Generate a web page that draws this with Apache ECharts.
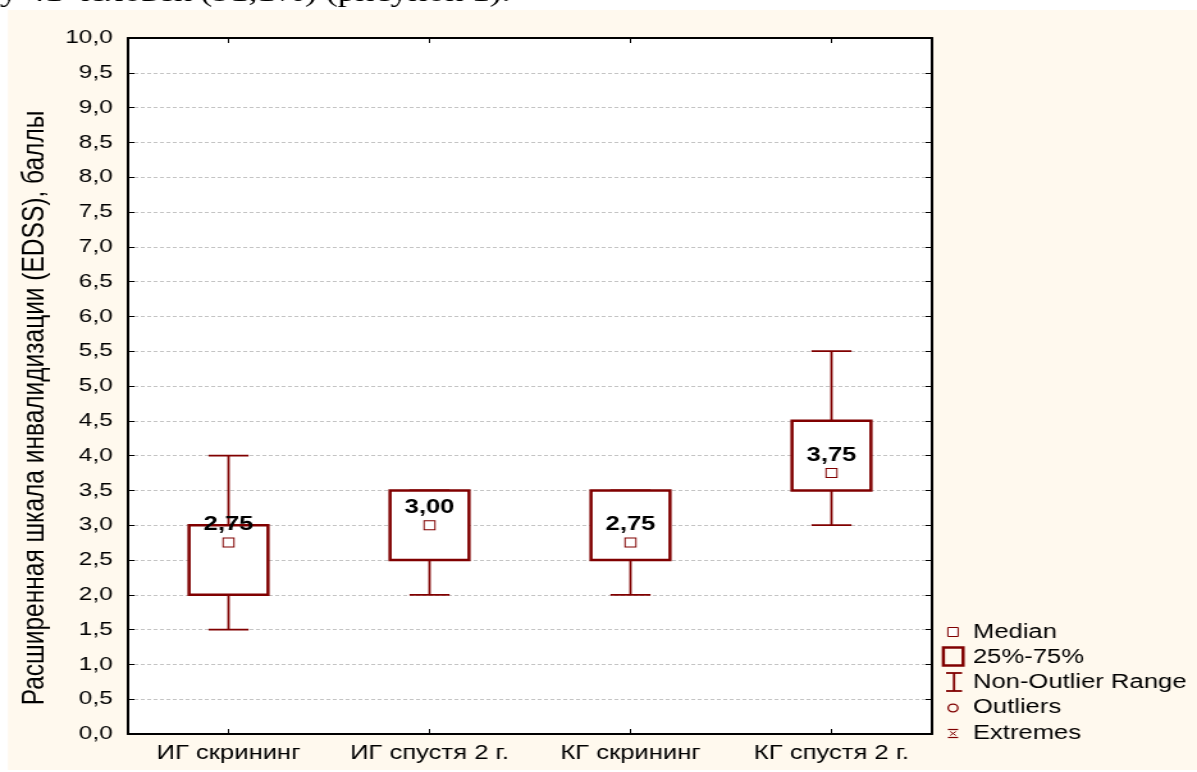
<!DOCTYPE html>
<html>
<head>
<meta charset="utf-8">
<script src="https://cdn.jsdelivr.net/npm/echarts@6/dist/echarts.min.js"></script>
<style>
html,body{margin:0;padding:0;background:#fff;overflow:hidden;width:1197px;height:772px;}
#main{width:935px;height:772px;transform:scaleX(1.2802);transform-origin:0 0;}
</style>
</head>
<body>
<div id="main"></div>
<script>
// ---- data ----
const categories = ['ИГ скрининг', 'ИГ спустя 2 г.', 'КГ скрининг', 'КГ спустя 2 г.'];
const whiskerLow  = [1.5, 2.0, 2.0, 3.0];
const quartile1   = [2.0, 2.5, 2.5, 3.5];
const medians     = [2.75, 3.0, 2.75, 3.75];
const quartile3   = [3.0, 3.5, 3.5, 4.5];
const whiskerHigh = [4.0, 3.5, 3.5, 5.5];
const yTitle = 'Расширенная шкала инвалидизации (EDSS), баллы';
const legendLabels = ['Median', '25%-75%', 'Non-Outlier Range', 'Outliers', 'Extremes'];
const topText = 'у 41 человек (91,1%) (рисунок 1).';

const W = 935;
const RED = '#800000';
const FONT = 'Liberation Sans, Arial, sans-serif';
const comma = (v, d) => v.toFixed(d).replace('.', ',');

const boxData = categories.map((c, i) => [i, whiskerLow[i], quartile1[i], quartile3[i], whiskerHigh[i]]);
const medData = categories.map((c, i) => [i, medians[i]]);

const chart = echarts.init(document.getElementById('main'), null, {renderer: 'canvas'});

const lx = 744.4, tx = 760;
const legendY = [632, 657, 682, 707, 733];

const graphic = [
  {type: 'rect', shape: {x: 0, y: 0, width: W, height: 10}, style: {fill: '#fff'}, z: 100},
  {type: 'rect', shape: {x: 0, y: 0, width: 6.25, height: 772}, style: {fill: '#fff'}, z: 100},
  {type: 'rect', shape: {x: 0, y: 770, width: W, height: 2}, style: {fill: '#fff'}, z: 100},
  {type: 'text', x: 0, y: 8, z: 101, style: {text: topText, font: '28px "Liberation Serif", serif', fill: '#000', verticalAlign: 'bottom'}},
  // legend icons
  {type: 'rect', shape: {x: lx - 4, y: legendY[0] - 4.5, width: 8, height: 9}, style: {fill: '#fff', stroke: RED, lineWidth: 1}, z: 100},
  {type: 'rect', shape: {x: 736.9, y: 647.5, width: 15.4, height: 18}, style: {fill: 'none', stroke: RED, lineWidth: 2.5}, z: 100},
  {type: 'line', shape: {x1: lx + 0.8, y1: 673, x2: lx + 0.8, y2: 691}, style: {stroke: RED, lineWidth: 1.8}, z: 100},
  {type: 'line', shape: {x1: 739, y1: 673, x2: 751.5, y2: 673}, style: {stroke: RED, lineWidth: 1.8}, z: 100},
  {type: 'line', shape: {x1: 739, y1: 691, x2: 751.5, y2: 691}, style: {stroke: RED, lineWidth: 1.8}, z: 100},
  {type: 'circle', shape: {cx: lx, cy: legendY[3] + 1, r: 3.8}, style: {fill: 'none', stroke: RED, lineWidth: 1.3}, z: 100},
  {type: 'line', shape: {x1: lx - 4, y1: 729.5, x2: lx + 4, y2: 729.5}, style: {stroke: RED, lineWidth: 1.2}, z: 100},
  {type: 'line', shape: {x1: lx - 4, y1: 737.5, x2: lx + 4, y2: 737.5}, style: {stroke: RED, lineWidth: 1.2}, z: 100},
  {type: 'line', shape: {x1: lx - 2.2, y1: 731.5, x2: lx + 2.2, y2: 735.5}, style: {stroke: RED, lineWidth: 1}, z: 100},
  {type: 'line', shape: {x1: lx + 2.2, y1: 731.5, x2: lx - 2.2, y2: 735.5}, style: {stroke: RED, lineWidth: 1}, z: 100}
];
legendLabels.forEach((t, i) => {
  graphic.push({type: 'text', x: tx, y: legendY[i], z: 100,
    style: {text: t, fill: '#000', fontSize: 20, fontFamily: FONT, verticalAlign: 'middle', align: 'left'}});
});

const axisLine = {show: true, onZero: false, lineStyle: {color: '#000', width: 2}};
const tick = {show: true, inside: true, length: 5, lineStyle: {color: '#000', width: 1}};

const option = {
  animation: false,
  backgroundColor: '#fff9ee',
  textStyle: {fontFamily: FONT},
  grid: {left: 100, right: 207, top: 38, bottom: 38, show: true, backgroundColor: '#fff', borderWidth: 0},
  xAxis: [
    {type: 'category', data: categories, position: 'bottom', axisLine: axisLine,
      axisTick: Object.assign({alignWithLabel: true}, tick),
      axisLabel: {color: '#000', fontSize: 20, margin: 9, fontFamily: FONT, interval: 0, hideOverlap: false},
      splitLine: {show: false}},
    {type: 'category', data: categories, position: 'top', axisLine: axisLine,
      axisTick: Object.assign({alignWithLabel: true}, tick),
      axisLabel: {show: false}, splitLine: {show: false}}
  ],
  yAxis: [
    {type: 'value', min: 0, max: 10, interval: 0.5, position: 'left',
      name: yTitle, nameLocation: 'middle', nameRotate: 90, nameGap: 60,
      nameTextStyle: {fontSize: 24.5, color: '#000', fontFamily: FONT, padding: [0, 44, 0, 0]},
      axisLine: axisLine, axisTick: tick,
      axisLabel: {color: '#000', fontSize: 19, margin: 12, fontFamily: FONT, formatter: v => comma(v, 1)},
      splitLine: {show: true, lineStyle: {color: '#c4c4c4', width: 1, type: [3, 2]}}},
    {type: 'value', min: 0, max: 10, interval: 0.5, position: 'right',
      axisLine: axisLine, axisTick: tick, axisLabel: {show: false}, splitLine: {show: false}}
  ],
  graphic: graphic,
  series: [
    {
      name: '25%-75%',
      type: 'custom',
      xAxisIndex: 0, yAxisIndex: 0,
      data: boxData,
      encode: {x: 0, y: [1, 2, 3, 4]},
      z: 3,
      renderItem: function (params, api) {
        const i = api.value(0);
        const pLow = api.coord([i, api.value(1)]);
        const pQ1 = api.coord([i, api.value(2)]);
        const pQ3 = api.coord([i, api.value(3)]);
        const pHigh = api.coord([i, api.value(4)]);
        const band = api.size([1, 0])[0];
        const bw = band * 0.393, cw = band * 0.199;
        const cx = pQ1[0];
        const ws = {stroke: RED, lineWidth: 1.8};
        return {
          type: 'group',
          children: [
            {type: 'line', shape: {x1: cx, y1: pLow[1], x2: cx, y2: pQ1[1]}, style: ws},
            {type: 'line', shape: {x1: cx, y1: pQ3[1], x2: cx, y2: pHigh[1]}, style: ws},
            {type: 'line', shape: {x1: cx - cw / 2, y1: pLow[1], x2: cx + cw / 2, y2: pLow[1]}, style: ws},
            {type: 'line', shape: {x1: cx - cw / 2, y1: pHigh[1], x2: cx + cw / 2, y2: pHigh[1]}, style: ws},
            {type: 'rect', shape: {x: cx - bw / 2, y: pQ3[1], width: bw, height: pQ1[1] - pQ3[1]},
              style: {fill: '#fff', stroke: RED, lineWidth: 2.5}}
          ]
        };
      }
    },
    {
      name: 'Median',
      type: 'scatter',
      xAxisIndex: 0, yAxisIndex: 0,
      data: medData,
      z: 4,
      symbol: 'rect',
      symbolSize: [8.5, 9],
      itemStyle: {color: '#fff', borderColor: RED, borderWidth: 1, opacity: 1},
      label: {show: true, position: 'top', distance: 3, color: '#000', fontSize: 20, fontWeight: 'bold',
        opacity: 1, fontFamily: FONT, textBorderWidth: 0, formatter: p => comma(p.value[1], 2)},
      emphasis: {disabled: true}
    }
  ]
};
chart.setOption(option);
</script>
</body>
</html>
